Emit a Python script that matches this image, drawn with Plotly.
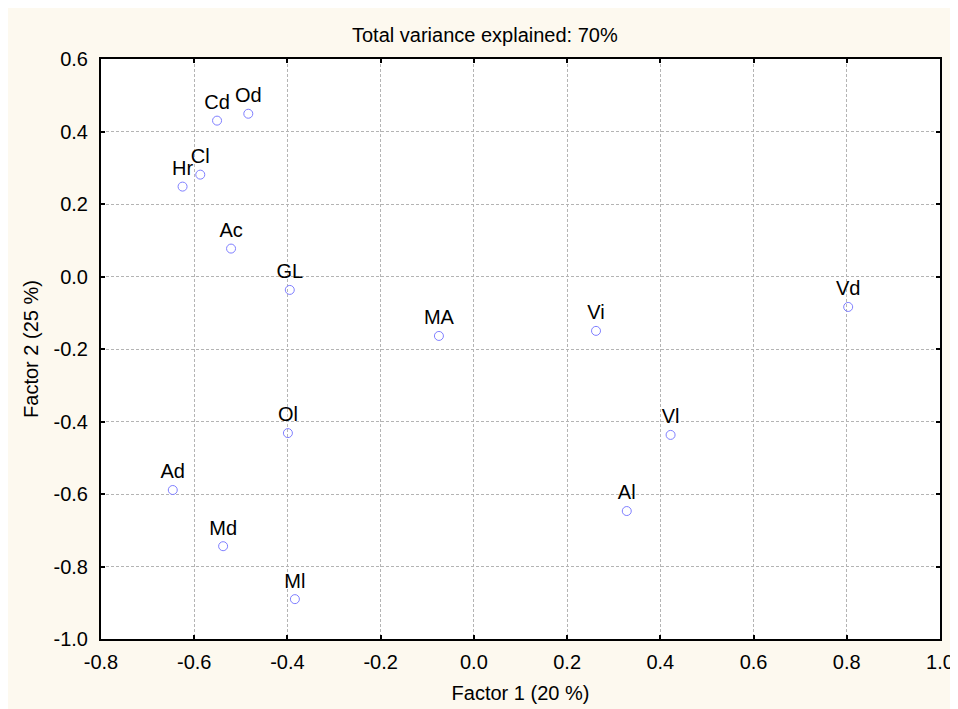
import plotly.graph_objects as go

labels = ["Cd", "Od", "Hr", "Cl", "Ac", "GL", "MA", "Vi", "Vd", "Ol", "Vl", "Ad", "Al", "Md", "Ml"]
factor1 = [-0.551, -0.484, -0.625, -0.587, -0.521, -0.395, -0.075, 0.262, 0.803, -0.399, 0.422, -0.646, 0.328, -0.538, -0.384]
factor2 = [0.430, 0.449, 0.248, 0.281, 0.077, -0.037, -0.164, -0.150, -0.084, -0.432, -0.437, -0.589, -0.647, -0.744, -0.890]

xticks = [-0.8, -0.6, -0.4, -0.2, 0.0, 0.2, 0.4, 0.6, 0.8, 1.0]
yticks = [-1.0, -0.8, -0.6, -0.4, -0.2, 0.0, 0.2, 0.4, 0.6]

title_text = "Total variance explained: 70%"
xtitle = "Factor 1 (20 %)"
ytitle = "Factor 2 (25 %)"

FONT = "Liberation Sans, Arial, sans-serif"
CREAM = "#FDF9EF"
FS = 20

fig = go.Figure()
fig.add_trace(go.Scatter(
    x=factor1, y=factor2, text=labels, mode="markers+text",
    textposition="top center",
    textfont=dict(family=FONT, size=FS, color="black"),
    marker=dict(symbol="circle-open", size=9, color="#7f7fff", line=dict(width=1, color="#7f7fff")),
    showlegend=False, cliponaxis=False,
))

axis_common = dict(
    showgrid=True, gridcolor="#b4b4b4", gridwidth=1, griddash="3px,2px",
    zeroline=False, showline=True, linecolor="black", linewidth=2, mirror="ticks",
    ticks="inside", ticklen=4, tickwidth=2, tickcolor="black",
    tickfont=dict(family=FONT, size=FS, color="black"),
)

W, H = 958, 709
L, R, T, B = 93, 23, 51, 78
pw = W - L - R
ph = H - T - B

fig.update_xaxes(range=[-0.8, 1.0], tickvals=xticks, ticktext=[f"{v:.1f}" for v in xticks],
                 ticklabelstandoff=4,
                 title=dict(text=xtitle, font=dict(family=FONT, size=FS, color="black"), standoff=14),
                 **axis_common)
fig.update_yaxes(range=[-1.0, 0.6], tickvals=yticks, ticktext=[f"{v:.1f}" for v in yticks],
                 ticklabelstandoff=7,
                 title=dict(text=ytitle, font=dict(family=FONT, size=FS, color="black"), standoff=10),
                 **axis_common)

fig.add_annotation(text=title_text, xref="paper", yref="paper", x=(478.5 - L) / pw, y=(ph + T - 27) / ph,
                   showarrow=False, xanchor="center", yanchor="middle",
                   font=dict(family=FONT, size=FS, color="black"))

fig.update_layout(
    width=W, height=H,
    margin=dict(l=L, r=R, t=T, b=B),
    paper_bgcolor=CREAM, plot_bgcolor="white",
    font=dict(family=FONT, size=FS, color="black"),
)

fig.write_html("out.html")
